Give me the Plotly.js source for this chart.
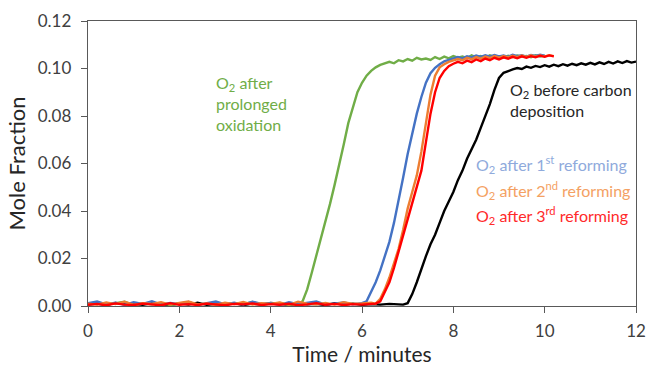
<!DOCTYPE html>
<html>
<head>
<meta charset="utf-8">
<script src="https://cdn.plot.ly/plotly-3.0.1.min.js"></script>
<style>html,body{margin:0;padding:0;background:#fff;}#chart{width:646px;height:371px;}</style>
</head>
<body>
<div id="chart"></div>
<script>
// ---- Data (time in minutes, O2 mole fraction) ----
var tGreen = [0,0.2,0.4,0.6,0.8,1,1.2,1.4,1.6,1.8,2,2.2,2.4,2.6,2.8,3,3.2,3.4,3.6,3.8,4,4.2,4.4,4.6,
  4.7,4.8,4.9,5,5.1,5.2,5.3,5.4,5.5,5.6,5.7,5.8,5.9,6,6.1,6.2,6.3,6.4,6.5,6.6,6.7,6.8,6.9,7,7.1,7.2,7.3,7.4,7.5,7.6,7.7,7.8,7.9,8,8.1,8.2,8.3,8.4,8.5,8.6,8.7,8.8,8.9,9,9.1,9.2,9.3,9.4,9.5,9.6,9.7,9.8,9.9,10];
var vGreen = [0.0008,0.0015,0.0006,0.0012,0.0018,0.0005,0.0010,0.0007,0.0013,0.0004,0.0011,0.0016,0.0006,0.0009,0.0014,0.0005,0.0012,0.0008,0.0017,0.0006,0.0010,0.0013,0.0005,0.0009,
  0.002,0.007,0.014,0.021,0.028,0.036,0.043,0.051,0.059,0.068,0.077,0.084,0.090,0.094,0.097,0.099,0.1005,0.1015,0.1020,0.1028,0.1022,0.1035,0.1030,0.1040,0.1033,0.1045,0.1038,0.1042,0.1036,0.1048,0.1040,0.1050,0.1043,0.1052,0.1046,0.1051,0.1044,0.1055,0.1047,0.1053,0.1045,0.1056,0.1049,0.1052,0.1046,0.1054,0.1048,0.1055,0.1050,0.1053,0.1047,0.1056,0.1050,0.1054];

var tBlue = [0,0.2,0.4,0.6,0.8,1,1.2,1.4,1.6,1.8,2,2.2,2.4,2.6,2.8,3,3.2,3.4,3.6,3.8,4,4.2,4.4,4.6,4.8,5,5.2,5.4,5.6,5.8,6,
  6.1,6.2,6.3,6.4,6.5,6.6,6.7,6.8,6.9,7,7.1,7.2,7.3,7.4,7.5,7.6,7.7,7.8,7.9,8,8.1,8.2,8.3,8.4,8.5,8.6,8.7,8.8,8.9,9,9.1,9.2,9.3,9.4,9.5,9.6,9.7,9.8,9.9,10];
var vBlue = [0.0012,0.0019,0.0007,0.0014,0.0005,0.0016,0.0009,0.0020,0.0006,0.0013,0.0008,0.0017,0.0005,0.0011,0.0019,0.0007,0.0014,0.0006,0.0018,0.0009,0.0012,0.0005,0.0016,0.0008,0.0013,0.0019,0.0006,0.0011,0.0015,0.0007,0.0012,
  0.002,0.006,0.010,0.015,0.021,0.027,0.035,0.044,0.054,0.064,0.073,0.081,0.088,0.094,0.098,0.1003,0.1018,0.1030,0.1036,0.1042,0.1048,0.1043,0.1052,0.1047,0.1055,0.1049,0.1056,0.1050,0.1057,0.1051,0.1055,0.1049,0.1058,0.1052,0.1056,0.1050,0.1057,0.1053,0.1058,0.1054];

var tOrange = [0,0.2,0.4,0.6,0.8,1,1.2,1.4,1.6,1.8,2,2.2,2.4,2.6,2.8,3,3.2,3.4,3.6,3.8,4,4.2,4.4,4.6,4.8,5,5.2,5.4,5.6,5.8,6,6.2,
  6.3,6.4,6.5,6.6,6.7,6.8,6.9,7,7.1,7.2,7.3,7.4,7.5,7.6,7.7,7.8,7.9,8,8.1,8.2,8.3,8.4,8.5,8.6,8.7,8.8,8.9,9,9.1,9.2,9.3,9.4,9.5,9.6,9.7,9.8,9.9,10,10.1,10.2];
var vOrange = [0.0010,0.0006,0.0015,0.0008,0.0018,0.0005,0.0012,0.0009,0.0016,0.0006,0.0013,0.0019,0.0007,0.0011,0.0005,0.0014,0.0008,0.0017,0.0006,0.0012,0.0009,0.0015,0.0005,0.0018,0.0010,0.0007,0.0013,0.0006,0.0016,0.0009,0.0011,0.0014,
  0.001,0.003,0.007,0.012,0.018,0.024,0.032,0.041,0.048,0.055,0.065,0.078,0.089,0.097,0.1005,0.1018,0.1028,0.1034,0.1040,0.1035,0.1045,0.1039,0.1048,0.1042,0.1050,0.1044,0.1052,0.1046,0.1053,0.1047,0.1054,0.1048,0.1055,0.1049,0.1056,0.1050,0.1055,0.1051,0.1056,0.1052];

var tRed = [0,0.2,0.4,0.6,0.8,1,1.2,1.4,1.6,1.8,2,2.2,2.4,2.6,2.8,3,3.2,3.4,3.6,3.8,4,4.2,4.4,4.6,4.8,5,5.2,5.4,5.6,5.8,6,6.2,
  6.3,6.4,6.5,6.6,6.7,6.8,6.9,7,7.1,7.2,7.3,7.4,7.5,7.6,7.7,7.8,7.9,8,8.1,8.2,8.3,8.4,8.5,8.6,8.7,8.8,8.9,9,9.1,9.2,9.3,9.4,9.5,9.6,9.7,9.8,9.9,10,10.1,10.2];
var vRed = [0.0005,0.0009,0.0003,0.0011,0.0006,0.0004,0.0010,0.0007,0.0003,0.0012,0.0005,0.0008,0.0004,0.0010,0.0006,0.0003,0.0009,0.0007,0.0011,0.0004,0.0008,0.0005,0.0010,0.0003,0.0007,0.0012,0.0005,0.0009,0.0004,0.0008,0.0006,0.0010,
  0.001,0.002,0.006,0.010,0.016,0.023,0.030,0.037,0.043,0.050,0.057,0.069,0.081,0.090,0.096,0.099,0.1010,0.1020,0.1028,0.1022,0.1033,0.1027,0.1038,0.1031,0.1042,0.1035,0.1045,0.1038,0.1047,0.1041,0.1049,0.1043,0.1051,0.1045,0.1052,0.1047,0.1054,0.1049,0.1055,0.1051];

var tBlack = [0,0.2,0.4,0.6,0.8,1,1.2,1.4,1.6,1.8,2,2.2,2.4,2.6,2.8,3,3.2,3.4,3.6,3.8,4,4.2,4.4,4.6,4.8,5,5.2,5.4,5.6,5.8,6,6.2,6.4,6.6,6.8,
  6.9,7,7.1,7.2,7.3,7.4,7.5,7.6,7.7,7.8,7.9,8,8.1,8.2,8.3,8.4,8.5,8.6,8.7,8.8,8.9,9,9.1,9.2,9.3,9.4,9.5,9.6,9.7,9.8,9.9,10,10.1,10.2,10.3,10.4,10.5,10.6,10.7,10.8,10.9,11,11.1,11.2,11.3,11.4,11.5,11.6,11.7,11.8,11.9,12];
var vBlack = [0.0006,0.0010,0.0004,0.0013,0.0007,0.0009,0.0005,0.0012,0.0008,0.0004,0.0011,0.0006,0.0014,0.0005,0.0009,0.0007,0.0012,0.0004,0.0010,0.0006,0.0013,0.0008,0.0005,0.0011,0.0007,0.0009,0.0004,0.0012,0.0006,0.0010,0.0005,0.0008,0.0006,0.0009,0.0005,
  0.0006,0.0012,0.005,0.010,0.016,0.021,0.026,0.030,0.035,0.040,0.044,0.048,0.053,0.057,0.062,0.066,0.070,0.075,0.080,0.085,0.091,0.096,0.0982,0.0990,0.0996,0.1002,0.0998,0.1008,0.1003,0.1011,0.1006,0.1014,0.1008,0.1016,0.1010,0.1018,0.1012,0.1020,0.1014,0.1022,0.1016,0.1024,0.1017,0.1026,0.1019,0.1028,0.1021,0.1030,0.1023,0.1031,0.1025,0.1029];

var xTickVals = [0,2,4,6,8,10,12];
var yTickVals = [0,0.02,0.04,0.06,0.08,0.10,0.12];

var FONT = 'Lato, "Open Sans", sans-serif';
function tr(x, y, c) {
  return {x: x, y: y, type: 'scatter', mode: 'lines', line: {color: c, width: 2.4}, hoverinfo: 'skip', showlegend: false};
}
var data = [
  tr(tBlack, vBlack, '#000000'),
  tr(tGreen, vGreen, '#70AD47'),
  tr(tBlue, vBlue, '#4472C4'),
  tr(tOrange, vOrange, '#ED7D31'),
  tr(tRed, vRed, '#FF0000')
];

function ann(text, x, y, color, anchor) {
  return {text: text, x: x, y: y, xref: 'x', yref: 'y', xanchor: 'left', yanchor: anchor, align: 'left',
    showarrow: false, font: {family: FONT, size: 16, color: color}};
}

var layout = {
  width: 646, height: 371,
  margin: {l: 88, r: 10, t: 21, b: 65},
  paper_bgcolor: '#fff', plot_bgcolor: '#fff',
  font: {family: FONT, color: '#404040'},
  xaxis: {
    range: [0, 12], tickvals: xTickVals, ticktext: xTickVals.map(String),
    showgrid: false, zeroline: false, showline: true, mirror: true,
    linecolor: '#595959', linewidth: 1.3, ticks: 'outside', ticklen: 6, tickcolor: '#595959',
    ticklabelstandoff: 3,
    tickfont: {family: FONT, size: 17, color: '#404040'},
    title: {text: 'Time / minutes', font: {family: FONT, size: 21, color: '#262626'}, standoff: 6}
  },
  yaxis: {
    range: [0, 0.12], tickvals: yTickVals, ticktext: yTickVals.map(function(v){return v.toFixed(2);}),
    showgrid: false, zeroline: false, showline: true, mirror: true,
    linecolor: '#595959', linewidth: 1.3, ticks: 'outside', ticklen: 6, tickcolor: '#595959',
    ticklabelstandoff: 6,
    tickfont: {family: FONT, size: 17, color: '#404040'},
    title: {text: 'Mole Fraction', font: {family: FONT, size: 22, color: '#262626'}, standoff: 6}
  },
  annotations: [
    ann('O<sub>2</sub> after<br>prolonged<br>oxidation', 2.76, 0.0990, '#70AD47', 'top'),
    ann('O<sub>2</sub> before carbon<br>deposition', 9.2, 0.0958, '#262626', 'top'),
    ann('O<sub>2</sub> after 1<sup>st</sup> reforming', 8.45, 0.0594, '#8FAADC', 'middle'),
    ann('O<sub>2</sub> after 2<sup>nd</sup> reforming', 8.45, 0.0488, '#F4A163', 'middle'),
    ann('O<sub>2</sub> after 3<sup>rd</sup> reforming', 8.45, 0.0379, '#FF2A2A', 'middle')
  ]
};

Plotly.newPlot('chart', data, layout, {displayModeBar: false, staticPlot: true});
</script>
</body>
</html>
